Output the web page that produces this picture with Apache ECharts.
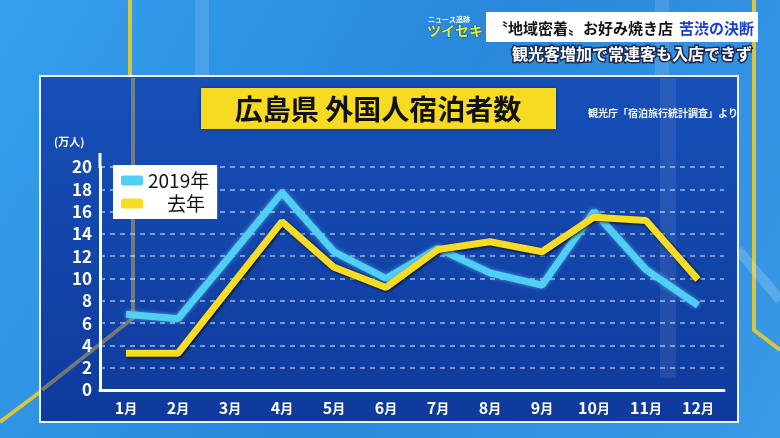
<!DOCTYPE html>
<html><head><meta charset="utf-8">
<script src="https://cdn.jsdelivr.net/npm/echarts@6/dist/echarts.min.js"></script>
<style>html,body{margin:0;padding:0;background:#2a88dc}#c{width:780px;height:438px}</style>
</head><body><div id="c"></div>
<script>
const months = ['1月','2月','3月','4月','5月','6月','7月','8月','9月','10月','11月','12月'];
const s2019 = [6.8, 6.4, 12.0, 17.7, 12.4, 10.0, 12.7, 10.5, 9.4, 16.0, 10.8, 7.6];
const sLast = [3.3, 3.3, 9.2, 15.1, 11.0, 9.2, 12.6, 13.3, 12.4, 15.5, 15.2, 9.9];
const seriesNames = ['2019年', '去年'];
const yTicks = [0, 2, 4, 6, 8, 10, 12, 14, 16, 18, 20];

const FONT = '"Noto Sans CJK JP", "Noto Sans", sans-serif';
const chart = echarts.init(document.getElementById('c'), null, {renderer: 'canvas'});

const option = {
  animation: false,
  backgroundColor: {
    type: 'linear', x: 0, y: 0, x2: 1, y2: 1,
    colorStops: [{offset: 0, color: '#35a0ec'}, {offset: 0.5, color: '#2a88dc'}, {offset: 1, color: '#3a9ae6'}]
  },
  textStyle: {fontFamily: FONT},
  graphic: [
    {type: 'rect', z: -10, shape: {x: 195, y: 0, width: 14, height: 76}, style: {fill: 'rgba(255,255,255,0.12)'}},
    {type: 'rect', z: -10, shape: {x: 655, y: 0, width: 14, height: 76}, style: {fill: 'rgba(255,255,255,0.12)'}},
    {type: 'rect', z: -10, shape: {x: 128, y: 0, width: 4, height: 76}, style: {fill: '#d9c83a'}},
    {type: 'polyline', z: -10, shape: {points: [[754, 0], [754, 330], [780, 350]]}, style: {stroke: '#d8c53c', lineWidth: 4, fill: null}},
    {type: 'polyline', z: -10, shape: {points: [[40, 392], [0, 422]]}, style: {stroke: '#d8c53c', lineWidth: 4, fill: null}},
    {type: 'polyline', z: -10, shape: {points: [[738, 250], [780, 300]]}, style: {stroke: 'rgba(255,255,255,0.18)', lineWidth: 10, fill: null}},
    {type: 'rect', z: -9, shape: {x: 40, y: 76, width: 698, height: 346},
      style: {fill: {type: 'linear', x: 0, y: 0, x2: 0, y2: 1, colorStops: [{offset: 0, color: '#1750b8'}, {offset: 1, color: '#0f3a9c'}]},
        stroke: '#e8f4ff', lineWidth: 2}},
    {type: 'rect', z: -8, shape: {x: 660, y: 78, width: 16, height: 300}, style: {fill: 'rgba(255,255,255,0.08)'}},
    {type: 'polyline', z: -8, shape: {points: [[133, 78], [133, 318], [42, 390]]}, style: {stroke: 'rgba(190,170,90,0.55)', lineWidth: 4, fill: null}},
    {type: 'rect', z: 10, shape: {x: 201, y: 88, width: 355, height: 41}, style: {fill: '#f7da22', shadowColor: 'rgba(0,0,0,0.4)', shadowBlur: 4}},
    {type: 'text', z: 11, style: {x: 378, y: 109, text: '広島県 外国人宿泊者数', fill: '#111', font: 'bold 28px ' + FONT, textAlign: 'center', textVerticalAlign: 'middle'}},
    {type: 'text', z: 11, style: {x: 588, y: 113, text: '観光庁「宿泊旅行統計調査」より', fill: '#f2f6ff', font: 'bold 10px ' + FONT, textAlign: 'left', textVerticalAlign: 'middle'}},
    {type: 'text', z: 11, style: {x: 54, y: 142, text: '(万人)', fill: '#ffffff', font: 'bold 11px ' + FONT, textAlign: 'left', textVerticalAlign: 'middle'}},
    {type: 'line', z: 11, shape: {x1: 100, y1: 153, x2: 100, y2: 168}, style: {stroke: '#ffffff', lineWidth: 3}},
    {type: 'text', z: 11, style: {x: 428, y: 19, text: 'ニュース追跡', fill: '#ffffff', font: 'bold 7px ' + FONT, textAlign: 'left', textVerticalAlign: 'middle'}},
    {type: 'text', z: 11, style: {x: 427, y: 31, text: 'ツイセキ', fill: '#d8f040', font: 'bold 14px ' + FONT, textAlign: 'left', textVerticalAlign: 'middle', stroke: '#1a4a90', lineWidth: 1}},
    {type: 'rect', z: 10, shape: {x: 486, y: 12, width: 272, height: 30}, style: {fill: '#ffffff'}},
    {type: 'text', z: 11, style: {x: 493, y: 28, text: '〝地域密着〟お好み焼き店', fill: '#111', font: 'bold 15px ' + FONT, textAlign: 'left', textVerticalAlign: 'middle'}},
    {type: 'text', z: 11, style: {x: 754, y: 28, text: '苦渋の決断', fill: '#1a3fd0', font: 'bold 15px ' + FONT, textAlign: 'right', textVerticalAlign: 'middle'}},
    {type: 'text', z: 11, style: {x: 752, y: 54, text: '観光客増加で常連客も入店できず', fill: '#ffffff', font: 'bold 16px ' + FONT, textAlign: 'right', textVerticalAlign: 'middle', stroke: '#1a2a50', lineWidth: 3}}
  ],
  grid: {left: 100, right: 56, top: 167, bottom: 48, containLabel: false},
  legend: {
    data: seriesNames, z: 12,
    orient: 'vertical', left: 113, top: 165,
    backgroundColor: '#ffffff', borderRadius: 0,
    padding: [6, 8, 6, 8], itemGap: 4,
    icon: 'roundRect', itemWidth: 22, itemHeight: 10,
    formatter: function (n) { return n === '去年' ? '　去年' : n; },
    textStyle: {color: '#111', fontSize: 19, fontFamily: FONT, fontWeight: 'normal'}
  },
  xAxis: {
    type: 'category', data: months, boundaryGap: true, z: 2,
    axisLine: {lineStyle: {color: '#ffffff', width: 3}},
    axisTick: {show: false},
    axisLabel: {
      margin: 10, interval: 0,
      formatter: function (v) { const n = v.replace('月', ''); return '{n|' + n + '}{m|月}'; },
      rich: {
        n: {color: '#ffffff', fontSize: 16, fontWeight: 'bold', fontFamily: FONT},
        m: {color: '#ffffff', fontSize: 13, fontWeight: 'bold', fontFamily: FONT}
      }
    },
    splitLine: {show: false}
  },
  yAxis: {
    type: 'value', min: yTicks[0], max: yTicks[yTicks.length - 1], interval: 2, z: 2,
    axisLine: {show: true, lineStyle: {color: '#ffffff', width: 3}},
    axisTick: {show: false},
    axisLabel: {color: '#ffffff', fontSize: 17, fontWeight: 'bold', margin: 8, fontFamily: FONT},
    splitLine: {lineStyle: {color: 'rgba(200,225,255,0.75)', type: [5, 5], width: 1.5}}
  },
  series: [
    {name: seriesNames[0], type: 'line', data: s2019, symbol: 'none', z: 3,
      lineStyle: {color: '#4fcff3', width: 7, shadowColor: 'rgba(120,220,255,0.6)', shadowBlur: 4},
      itemStyle: {color: '#4fcff3'}},
    {name: seriesNames[1], type: 'line', data: sLast, symbol: 'none', z: 4,
      lineStyle: {color: '#f7dc26', width: 7, shadowColor: 'rgba(0,0,0,0.85)', shadowBlur: 3, shadowOffsetX: 1, shadowOffsetY: 1},
      itemStyle: {color: '#f7dc26'}}
  ]
};
chart.setOption(option);
</script></body></html>
